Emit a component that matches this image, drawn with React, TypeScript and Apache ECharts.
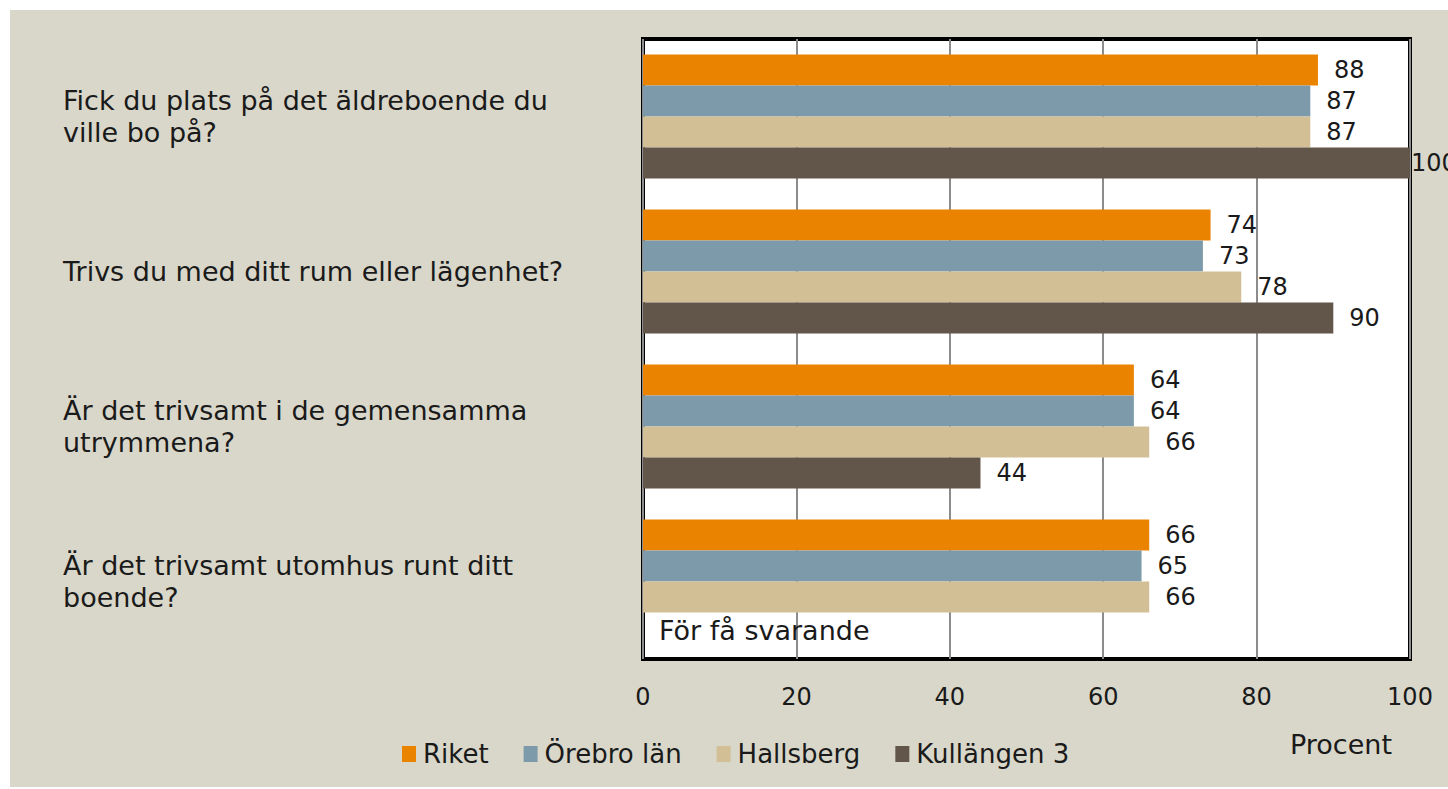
import React, { useEffect, useRef } from "react";
import * as echarts from "echarts";

const categories = [
  "Fick du plats på det äldreboende du ville bo på?",
  "Trivs du med ditt rum eller lägenhet?",
  "Är det trivsamt i de gemensamma utrymmena?",
  "Är det trivsamt utomhus runt ditt boende?",
];
const seriesNames = ["Riket", "Örebro län", "Hallsberg", "Kullängen 3"];
const riket = [88, 74, 64, 66];
const orebroLan = [87, 73, 64, 65];
const hallsberg = [87, 78, 66, 66];
const kullangen3 = [100, 90, 44, null];
const xTicks = [0, 20, 40, 60, 80, 100];
const axisTitle = "Procent";
const noteText = "För få svarande";

const colors = ["#E98300", "#7D9AAA", "#D3BF96", "#62554A"];
const FONT = "DejaVu Sans";

export default function App() {
  const ref = useRef<HTMLDivElement>(null);
  useEffect(() => {
    if (!ref.current) return;
    const chart = echarts.init(ref.current, undefined, { renderer: "svg" });
    const values = [riket, orebroLan, hallsberg, kullangen3];
    chart.setOption({
      animation: false,
      backgroundColor: "#D9D7CA",
      textStyle: { fontFamily: FONT },
      grid: {
        left: 633,
        top: 29,
        right: 38,
        bottom: 128,
        show: true,
        backgroundColor: "#ffffff",
        borderColor: "#000000",
        borderWidth: 4,
      },
      xAxis: {
        type: "value",
        min: xTicks[0],
        max: xTicks[xTicks.length - 1],
        interval: 20,
        axisLine: { show: false },
        axisTick: { show: false },
        splitLine: { show: true, lineStyle: { color: "#8c8c8c", width: 2 } },
        axisLabel: {
          margin: 26,
          fontSize: 24,
          color: "#1a1a1a",
          fontFamily: FONT,
        },
      },
      yAxis: {
        type: "category",
        data: categories,
        inverse: true,
        axisLine: { show: false },
        axisTick: { show: false },
        splitLine: { show: false },
        axisLabel: {
          margin: 580,
          align: "left",
          fontSize: 27,
          lineHeight: 32,
          color: "#1a1a1a",
          fontFamily: FONT,
          width: 520,
          overflow: "break",
        },
      },
      legend: {
        left: 392,
        top: 731,
        padding: 0,
        itemGap: 35,
        itemWidth: 14,
        itemHeight: 16,
        icon: "rect",
        textStyle: { fontSize: 26, color: "#1a1a1a", fontFamily: FONT, padding: [0, 0, 0, 2] },
        data: seriesNames,
      },
      series: seriesNames.map((name, i) => ({
        name,
        type: "bar",
        barGap: "0%",
        barCategoryGap: "20%",
        itemStyle: { color: colors[i] },
        label: {
          show: true,
          position: "right",
          distance: 16,
          fontSize: 24,
          color: "#1a1a1a",
          fontFamily: FONT,
        },
        data: values[i].map((v) =>
          v !== null && v >= 100 ? { value: v, label: { distance: 1 } } : v
        ),
      })),
      graphic: [
        {
          type: "text",
          x: 1382,
          y: 734,
          style: {
            text: axisTitle,
            fontSize: 27,
            fontFamily: FONT,
            fill: "#1a1a1a",
            align: "right",
            verticalAlign: "middle",
          },
        },
        {
          type: "text",
          x: 649,
          y: 620,
          z: 100,
          style: {
            text: noteText,
            fontSize: 27,
            fontFamily: FONT,
            fill: "#1a1a1a",
            align: "left",
            verticalAlign: "middle",
          },
        },
      ],
    });
    return () => chart.dispose();
  }, []);
  return (
    <div style={{ position: "fixed", left: 0, top: 0, width: 1448, height: 789, background: "#ffffff" }}>
      <div ref={ref} style={{ position: "absolute", left: 10, top: 10, width: 1438, height: 777 }} />
    </div>
  );
}
